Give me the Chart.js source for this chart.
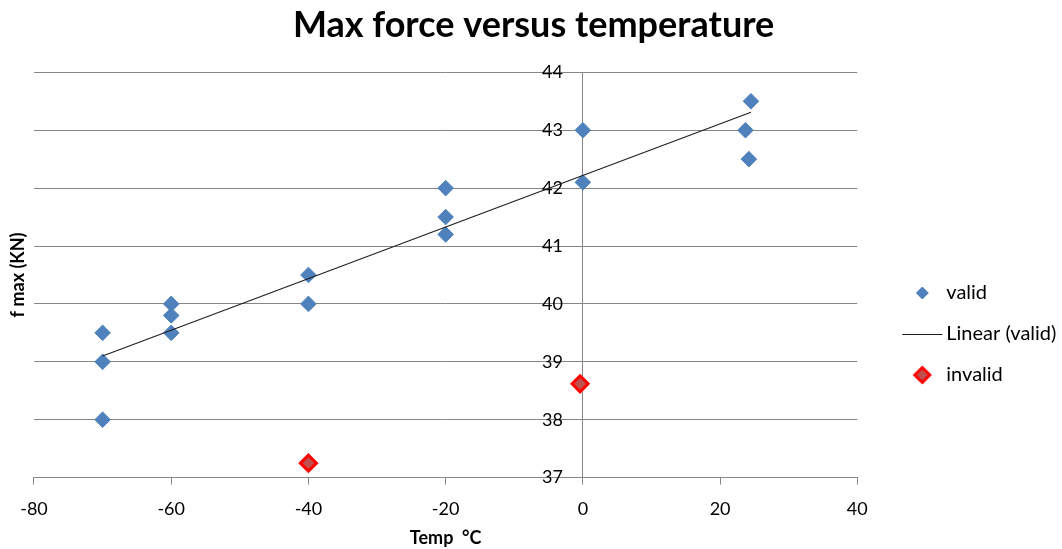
<!DOCTYPE html>
<html>
<head>
<meta charset="utf-8">
<title>Max force versus temperature</title>
<script src="https://cdn.jsdelivr.net/npm/chart.js@4.4.1/dist/chart.umd.min.js"></script>
<style>
  html, body { margin: 0; padding: 0; background: #ffffff; }
  #wrap { width: 1062px; height: 549px; }
</style>
</head>
<body>
<div id="wrap"><canvas id="chart" width="1062" height="549"></canvas></div>
<script>
// Measured samples: temperature (°C) and maximum force (kN)
const validTemps   = [-70, -70, -70, -60, -60, -60, -40, -40, -20, -20, -20, 0, 0, 24.5, 23.7, 24.2];
const validForces  = [39.5, 39.0, 38.0, 40.0, 39.8, 39.5, 40.5, 40.0, 42.0, 41.5, 41.2, 43.0, 42.1, 43.5, 43.0, 42.5];
const invalidTemps  = [-40, -0.4];
const invalidForces = [37.25, 38.62];
// Linear trend of the valid samples, end points
const trendTemps  = [-70, 24.5];
const trendForces = [39.1, 43.31];

const seriesNames = ['valid', 'Linear (valid)', 'invalid'];
const xTicks = [-80, -60, -40, -20, 0, 20, 40];
const yTicks = [37, 38, 39, 40, 41, 42, 43, 44];

const BLUE = '#4F81BD';
const RED = '#FF0000';
const RED_FILL = '#C0504D';
const GRID = '#868686';
const TREND = '#1E1E1E';

Chart.defaults.font.family = 'Lato, "Open Sans", sans-serif';
Chart.defaults.color = '#000000';

const toPoints = (xs, ys) => xs.map((x, i) => ({ x: x, y: ys[i] }));

// Legend swatches, drawn with the library's point helpers.
// The legend centres each image on its 58px box; the mark sits 24px before the label text.
const SWATCH_BOX = 58;
function makeSwatch(kind) {
  const W = 80, H = 24;
  const c = document.createElement('canvas');
  c.width = W; c.height = H;
  const g = c.getContext('2d');
  const cx = W / 2 - SWATCH_BOX / 2 + SWATCH_BOX + 10 - 24, cy = H / 2;
  const helpers = Chart.helpers || {};
  if (kind === 'line') {
    g.strokeStyle = TREND; g.lineWidth = 1;
    g.beginPath(); g.moveTo(cx - 20, Math.round(cy) + 0.5); g.lineTo(cx + 20, Math.round(cy) + 0.5); g.stroke();
  } else {
    const opts = kind === 'valid'
      ? { pointStyle: 'rectRot', radius: 6, borderWidth: 1, rotation: 0 }
      : { pointStyle: 'rectRot', radius: 7.5, borderWidth: 3, rotation: 0 };
    g.fillStyle = kind === 'valid' ? BLUE : RED_FILL;
    g.strokeStyle = kind === 'valid' ? BLUE : RED;
    g.lineWidth = opts.borderWidth;
    if (helpers.drawPoint) {
      helpers.drawPoint(g, opts, cx, cy);
    } else {
      const r = opts.radius;
      g.beginPath(); g.moveTo(cx - r, cy); g.lineTo(cx, cy - r); g.lineTo(cx + r, cy); g.lineTo(cx, cy + r); g.closePath();
      g.fill(); g.stroke();
    }
  }
  return c;
}
const swatches = [makeSwatch('valid'), makeSwatch('line'), makeSwatch('invalid')];

const data = {
  datasets: [
    {
      label: seriesNames[0],
      type: 'scatter',
      data: toPoints(validTemps, validForces),
      pointStyle: 'rectRot',
      pointRadius: 7.8,
      pointHoverRadius: 7.8,
      backgroundColor: BLUE,
      borderColor: BLUE,
      borderWidth: 1,
      order: 1
    },
    {
      label: seriesNames[1],
      type: 'line',
      data: toPoints(trendTemps, trendForces),
      borderColor: TREND,
      borderWidth: 1.1,
      pointRadius: 0,
      fill: false,
      tension: 0,
      order: 0
    },
    {
      label: seriesNames[2],
      type: 'scatter',
      data: toPoints(invalidTemps, invalidForces),
      pointStyle: 'rectRot',
      pointRadius: 8,
      pointHoverRadius: 8,
      backgroundColor: RED_FILL,
      borderColor: RED,
      borderWidth: 3,
      order: 2
    }
  ]
};

const yRange = { min: yTicks[0], max: yTicks[yTicks.length - 1] };
const setYTicks = (axis) => { axis.ticks = yTicks.map(v => ({ value: v })); };

new Chart(document.getElementById('chart'), {
  type: 'scatter',
  data: data,
  options: {
    responsive: false,
    animation: false,
    devicePixelRatio: 1,
    layout: { padding: { left: 0.8, right: -4.4, top: 0, bottom: 0 } },
    plugins: {
      tooltip: { enabled: false },
      title: {
        display: true,
        text: 'Max force versus temperature',
        color: '#000000',
        font: { size: 36, weight: 'bold' },
        padding: { top: 3.5, bottom: 25.6 }
      },
      legend: {
        display: true,
        position: 'right',
        align: 'center',
        fullSize: false,
        maxWidth: 240,
        title: { display: true, text: ' ', font: { size: 10 }, padding: { top: 106, bottom: 0 } },
        labels: {
          usePointStyle: true,
          pointStyleWidth: SWATCH_BOX,
          padding: 21,
          color: '#000000',
          font: { size: 20 },
          generateLabels: (chart) => chart.data.datasets.map((ds, i) => ({
            text: ds.label,
            pointStyle: swatches[i],
            fillStyle: 'rgba(0,0,0,0)',
            strokeStyle: 'rgba(0,0,0,0)',
            lineWidth: 0,
            fontColor: '#000000',
            hidden: false,
            datasetIndex: i
          }))
        }
      }
    },
    scales: {
      x: {
        type: 'linear',
        position: 'bottom',
        min: xTicks[0],
        max: xTicks[xTicks.length - 1],
        afterBuildTicks: (axis) => { axis.ticks = xTicks.map(v => ({ value: v })); },
        ticks: { font: { size: 18 }, color: '#000000', padding: 13.7 },
        grid: { drawOnChartArea: false, drawTicks: true, tickLength: 7, color: GRID },
        border: { color: GRID },
        title: {
          display: true,
          text: 'Temp  °C',
          color: '#000000',
          font: { size: 18, weight: 'bold' },
          padding: { top: -6.5, bottom: 0.3 }
        }
      },
      // vertical axis line and horizontal grid, crossing at 0 °C
      y: {
        type: 'linear',
        position: { x: 0 },
        ...yRange,
        afterBuildTicks: setYTicks,
        ticks: { display: false },
        grid: { color: GRID, tickLength: 8 },
        border: { color: GRID }
      },
      // value labels, set just left of the crossing axis
      yLabels: {
        type: 'linear',
        axis: 'y',
        position: { x: -2.9 },
        ...yRange,
        afterBuildTicks: setYTicks,
        ticks: { font: { size: 18 }, color: '#000000' },
        grid: { display: false, drawTicks: false },
        border: { display: false }
      },
      // left-hand axis title
      yTitle: {
        type: 'linear',
        axis: 'y',
        position: 'left',
        ...yRange,
        ticks: { display: false },
        grid: { display: false, drawTicks: false },
        border: { display: false },
        title: {
          display: true,
          text: 'f max (KN)',
          color: '#000000',
          font: { size: 18, weight: 'bold' },
          padding: { top: 7, bottom: 4.6 }
        }
      }
    }
  }
});
</script>
</body>
</html>
